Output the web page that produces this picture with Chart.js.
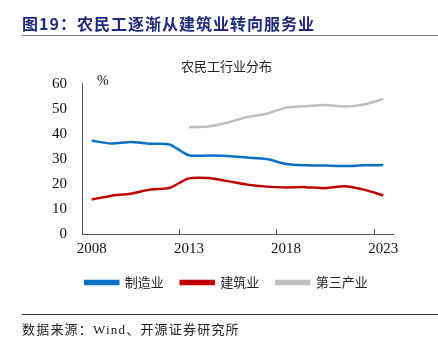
<!DOCTYPE html>
<html>
<head>
<meta charset="utf-8">
<script src="https://cdn.jsdelivr.net/npm/chart.js@4"></script>
<style>
  body { margin: 0; background: #fff; }
  #wrap { position: relative; width: 438px; height: 352px; overflow: hidden; }
  #chart { position: absolute; left: 0; top: 0; }
  .txt { position: absolute; white-space: nowrap; }
  #head { left: 22px; top: 11px; font: bold 16px "Noto Sans CJK SC", sans-serif; color: #1f2a7a; letter-spacing: 1px; }
  #headline { left: 22px; top: 35px; width: 416px; height: 0; border-top: 1.5px solid #7f7f7f; }
  #footline { left: 22px; top: 314px; width: 416px; height: 0; border-top: 1px solid #333; }
  #foot { left: 22px; top: 319px; font: 13px "Noto Sans CJK SC", "Liberation Serif", serif; color: #222; letter-spacing: 1.2px; }
  #unit { left: 97px; top: 73px; font: 14px "Liberation Serif", serif; color: #111; }
</style>
</head>
<body>
<div id="wrap">
  <canvas id="chart" width="438" height="352"></canvas>
  <div class="txt" id="head">图19：农民工逐渐从建筑业转向服务业</div>
  <div class="txt" id="headline"></div>
  <div class="txt" id="unit">%</div>
  <div class="txt" id="footline"></div>
  <div class="txt" id="foot">数据来源：<span style="font-family:'Liberation Serif',serif">Wind</span>、开源证券研究所</div>
</div>
<script>
// 农民工行业分布 (%)
const years = ['2008', '2009', '2010', '2011', '2012', '2013', '2014', '2015',
               '2016', '2017', '2018', '2019', '2020', '2021', '2022', '2023'];
const manufacturing = [37.2, 36.1, 36.7, 36.0, 35.7, 31.4, 31.3, 31.1, 30.5, 29.9, 27.9, 27.4, 27.3, 27.1, 27.4, 27.5];
const construction = [13.8, 15.2, 16.1, 17.7, 18.4, 22.2, 22.3, 21.1, 19.7, 18.9, 18.6, 18.7, 18.3, 19.0, 17.7, 15.4];
const tertiary = [null, null, null, null, null, 42.6, 42.9, 44.5, 46.7, 48.0, 50.5, 51.0, 51.5, 50.9, 51.7, 53.8];
const yTicks = [0, 10, 20, 30, 40, 50, 60];
const xTickEvery = 5;

const serif = "'Liberation Serif', 'Times New Roman', serif";
const cjk = "'Noto Sans CJK SC', sans-serif";

// 横轴内侧刻度线（画在类别分界处）
const innerTicks = {
    id: 'innerTicks',
    afterDraw(chart) {
        const x = chart.scales.x;
        const c = chart.ctx;
        const half = (x.getPixelForValue(1) - x.getPixelForValue(0)) / 2;
        c.save();
        c.strokeStyle = '#555';
        c.lineWidth = 1;
        for (let i = 0; i < years.length; i += xTickEvery) {
            const px = Math.round(x.getPixelForValue(i) - half) + 0.5;
            c.beginPath();
            c.moveTo(px, x.top);
            c.lineTo(px, x.top - 5);
            c.stroke();
        }
        c.restore();
    }
};

// 图例和标题稍微右移，和原图一样
const shiftBoxes = {
    id: 'shiftBoxes',
    afterLayout(chart) {
        [chart.legend, chart.titleBlock].forEach(b => {
            if (b) { b.left += 7; b.right += 7; }
        });
    }
};

const line = (label, data, color) => ({
    label, data,
    borderColor: color,
    backgroundColor: color,
    borderWidth: 2.5,
    pointRadius: 0,
    tension: 0.25,
    fill: false
});

new Chart(document.getElementById('chart'), {
    type: 'line',
    data: {
        labels: years,
        datasets: [
            line('制造业', manufacturing, '#0a70c4'),
            line('建筑业', construction, '#c00000'),
            line('第三产业', tertiary, '#bfbfbf')
        ]
    },
    options: {
        responsive: false,
        animation: false,
        layout: { padding: { left: 46, right: 45, top: 50, bottom: 53 } },
        scales: {
            x: {
                type: 'category',
                offset: true,
                grid: { display: true, offset: true, drawOnChartArea: false, drawTicks: false },
                border: { display: true, color: '#555', width: 1 },
                ticks: {
                    autoSkip: false, maxRotation: 0, padding: 6,
                    color: '#111', font: { family: serif, size: 15 },
                    callback: (v, i) => (i % xTickEvery === 0 ? years[i] : '')
                },
                afterFit: s => { s.height = 25; }
            },
            y: {
                min: 0, max: 60,
                afterBuildTicks: s => { s.ticks = yTicks.map(v => ({ value: v })); },
                grid: { display: false, drawTicks: false },
                border: { display: true, color: '#555', width: 1 },
                ticks: { padding: 15, color: '#111', font: { family: serif, size: 15 } },
                afterFit: s => { s.width = 36; }
            }
        },
        plugins: {
            title: {
                display: true,
                text: '农民工行业分布',
                color: '#222',
                font: { family: cjk, size: 13, weight: 'normal' },
                padding: { top: 8, bottom: 10 }
            },
            legend: {
                position: 'bottom',
                labels: {
                    boxWidth: 33, boxHeight: 3, padding: 17,
                    color: '#222', font: { family: cjk, size: 13 }
                }
            },
            tooltip: { enabled: false }
        }
    },
    plugins: [innerTicks, shiftBoxes]
});
</script>
</body>
</html>
